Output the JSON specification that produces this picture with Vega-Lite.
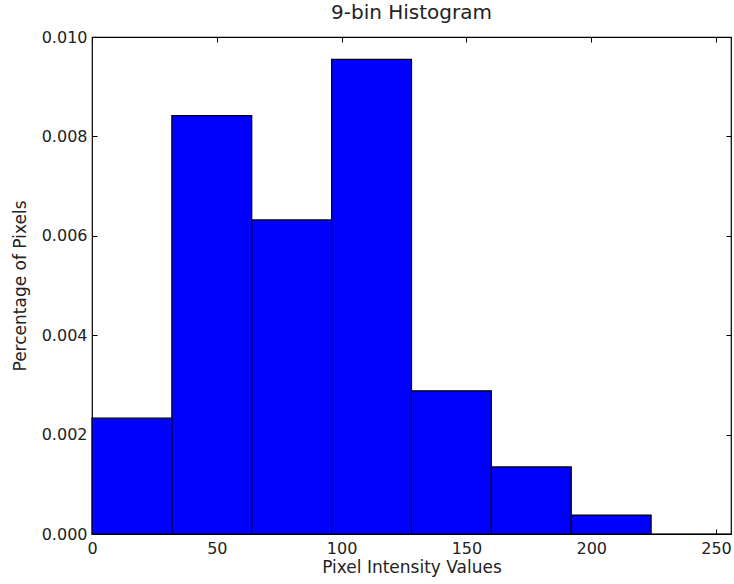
{
  "$schema": "https://vega.github.io/schema/vega-lite/v6.json",
  "width": 639,
  "height": 497,
  "autosize": {"type": "none"},
  "padding": {"left": 92, "top": 37, "right": 3, "bottom": 50},
  "background": "white",
  "title": {"text": "9-bin Histogram", "font": "DejaVu Sans", "fontSize": 20, "fontWeight": "normal", "color": "#222222", "offset": 6},
  "config": {
    "view": {"stroke": "black", "strokeWidth": 1.2},
    "axis": {"grid": false, "domain": false, "labelFont": "DejaVu Sans", "titleFont": "DejaVu Sans", "labelFontSize": 16, "titleFontSize": 17, "titleFontWeight": "normal", "labelColor": "#222222", "titleColor": "#222222", "tickColor": "black", "tickSize": -5, "tickWidth": 1, "labelFlush": false}
  },
  "data": {
    "values": [
      {"start": 0, "end": 32, "pct": 0.00233},
      {"start": 32, "end": 64, "pct": 0.00842},
      {"start": 64, "end": 96, "pct": 0.00632},
      {"start": 96, "end": 128, "pct": 0.00955},
      {"start": 128, "end": 160, "pct": 0.00288},
      {"start": 160, "end": 192, "pct": 0.00135},
      {"start": 192, "end": 224, "pct": 0.00038},
      {"start": 224, "end": 256, "pct": 0}
    ]
  },
  "layer": [
    {
      "mark": {"type": "rect", "fill": "#0000ff", "stroke": "black", "strokeWidth": 1.2},
      "encoding": {
        "x": {"field": "start", "type": "quantitative", "scale": {"domain": [0, 256], "nice": false},
          "axis": {"values": [0, 50, 100, 150, 200, 250], "title": "Pixel Intensity Values", "labelPadding": 11, "titlePadding": 3}},
        "x2": {"field": "end"},
        "y": {"field": "pct", "type": "quantitative", "scale": {"domain": [0, 0.01], "nice": false},
          "axis": {"values": [0, 0.002, 0.004, 0.006, 0.008, 0.01], "format": ".3f", "title": "Percentage of Pixels", "labelPadding": 10, "titlePadding": 12}},
        "y2": {"datum": 0}
      }
    },
    {
      "mark": {"type": "rule", "opacity": 0},
      "encoding": {
        "x": {"field": "start", "type": "quantitative", "axis": {"orient": "top", "values": [0, 50, 100, 150, 200, 250], "labels": false, "title": null}},
        "y": {"field": "pct", "type": "quantitative", "axis": {"orient": "right", "values": [0, 0.002, 0.004, 0.006, 0.008, 0.01], "labels": false, "title": null}}
      }
    }
  ],
  "resolve": {"axis": {"x": "independent", "y": "independent"}}
}
